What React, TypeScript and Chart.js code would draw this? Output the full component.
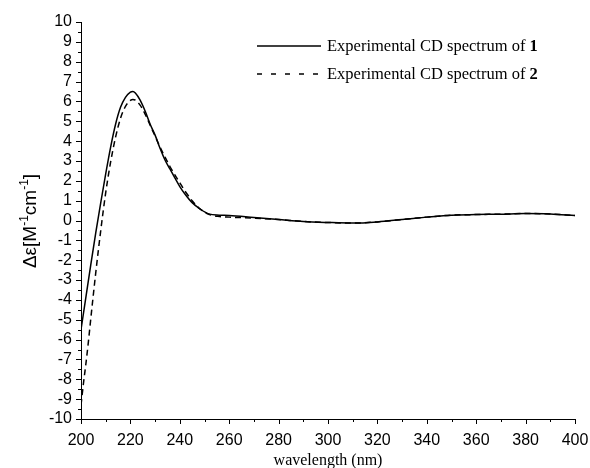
import React, { useEffect, useRef } from "react";
import { Chart, registerables } from "chart.js";

Chart.register(...registerables);

const wavelengths1 = [200, 202, 204, 206, 208, 210, 212, 214, 216, 218, 220, 221, 222, 224, 226, 228, 230, 232, 234, 236, 238, 240, 242, 245, 248, 252, 256, 260, 270, 280, 290, 300, 310, 320, 330, 340, 350, 360, 370, 380, 390, 400];
const cd1 = [-5.5, -3.85, -2.2, -0.6, 0.9, 2.35, 3.7, 4.85, 5.7, 6.2, 6.47, 6.5, 6.42, 6.05, 5.5, 4.85, 4.3, 3.64, 3.05, 2.6, 2.15, 1.71, 1.35, 0.9, 0.6, 0.32, 0.27, 0.25, 0.15, 0.05, -0.05, -0.1, -0.13, -0.07, 0.05, 0.17, 0.27, 0.3, 0.32, 0.35, 0.33, 0.25];

const wavelengths2 = [200, 201, 202, 203, 204, 206, 208, 210, 212, 214, 216, 218, 220, 221, 222, 224, 226, 228, 230, 232, 234, 236, 238, 240, 242, 245, 248, 252, 256, 260, 270, 280, 290, 300, 310, 320, 330, 340, 350, 360, 370, 380, 390, 400];
const cd2 = [-9.3, -8.2, -7.2, -6.1, -4.9, -2.6, -0.5, 1.4, 2.95, 4.2, 5.15, 5.75, 6.05, 6.1, 6.07, 5.8, 5.35, 4.8, 4.25, 3.7, 3.2, 2.72, 2.3, 1.9, 1.5, 1.0, 0.6, 0.3, 0.2, 0.17, 0.12, 0.05, -0.05, -0.1, -0.13, -0.07, 0.05, 0.17, 0.27, 0.3, 0.32, 0.35, 0.33, 0.25];

const legendText = "Experimental CD spectrum of ";
const compoundLabels = ["1", "2"];
const xTitle = "wavelength (nm)";
const xMin = 200, xMax = 400, xMajor = 20, xMinor = 10;
const yMin = -10, yMax = 10, yMajor = 1, yMinor = 0.5;

const SERIF = '"Liberation Serif", "Times New Roman", serif';
const SANS = '"Liberation Sans", Arial, sans-serif';

const overlay = {
  id: "overlay",
  afterDraw(chart: any) {
    const ctx = chart.ctx as CanvasRenderingContext2D;
    const xs = chart.scales.x;
    const ys = chart.scales.y;
    const area = chart.chartArea;
    ctx.save();
    ctx.strokeStyle = "#000";
    ctx.lineWidth = 1;
    for (let v = xMin; v <= xMax + 1e-9; v += xMinor) {
      const px = Math.round(xs.getPixelForValue(v)) + 0.5;
      const major = Math.abs(v / xMajor - Math.round(v / xMajor)) < 1e-6;
      ctx.beginPath();
      ctx.moveTo(px, area.bottom);
      ctx.lineTo(px, area.bottom + (major ? 5 : 3));
      ctx.stroke();
    }
    for (let v = yMin; v <= yMax + 1e-9; v += yMinor) {
      const py = Math.round(ys.getPixelForValue(v)) + 0.5;
      const major = Math.abs(v / yMajor - Math.round(v / yMajor)) < 1e-6;
      ctx.beginPath();
      ctx.moveTo(area.left, py);
      ctx.lineTo(area.left - (major ? 5 : 3), py);
      ctx.stroke();
    }
    // legend
    const styles = [[], [5, 9]];
    const rows = [46, 74];
    ctx.lineWidth = 1.5;
    compoundLabels.forEach((lab, i) => {
      ctx.setLineDash(styles[i]);
      ctx.beginPath();
      ctx.moveTo(257, rows[i]);
      ctx.lineTo(321, rows[i]);
      ctx.stroke();
      ctx.setLineDash([]);
      ctx.fillStyle = "#000";
      ctx.textBaseline = "middle";
      ctx.textAlign = "left";
      ctx.font = `16.5px ${SERIF}`;
      ctx.fillText(legendText, 327, rows[i] + 1);
      const w = ctx.measureText(legendText).width;
      ctx.font = `bold 16.5px ${SERIF}`;
      ctx.fillText(lab, 327 + w, rows[i] + 1);
    });
    // x title
    ctx.font = `16px ${SERIF}`;
    ctx.textAlign = "center";
    ctx.textBaseline = "alphabetic";
    ctx.fillText(xTitle, (area.left + area.right) / 2, 465);
    // y title
    ctx.translate(36, 221);
    ctx.rotate(-Math.PI / 2);
    const segs: [string, string, number][] = [
      ["Δε[M", `19px ${SANS}`, 0],
      ["-1", `12px ${SANS}`, -8],
      ["cm", `19px ${SANS}`, 0],
      ["-1", `12px ${SANS}`, -8],
      ["]", `19px ${SANS}`, 0],
    ];
    let total = 0;
    segs.forEach(([t, f]) => { ctx.font = f; total += ctx.measureText(t).width; });
    let cx = -total / 2;
    ctx.textAlign = "left";
    segs.forEach(([t, f, dy]) => {
      ctx.font = f;
      ctx.fillText(t, cx, dy);
      cx += ctx.measureText(t).width;
    });
    ctx.restore();
  },
};

export default function App() {
  const ref = useRef<HTMLCanvasElement>(null);
  useEffect(() => {
    document.body.style.margin = "0";
    const chart = new Chart(ref.current!, {
      type: "line",
      data: {
        datasets: [
          {
            data: wavelengths1.map((x, i) => ({ x, y: cd1[i] })),
            borderColor: "#000",
            borderWidth: 1.5,
            pointRadius: 0,
            cubicInterpolationMode: "monotone",
            fill: false,
          },
          {
            data: wavelengths2.map((x, i) => ({ x, y: cd2[i] })),
            borderColor: "#000",
            borderWidth: 1.5,
            borderDash: [6, 4],
            pointRadius: 0,
            cubicInterpolationMode: "monotone",
            fill: false,
          },
        ],
      },
      options: {
        animation: false,
        responsive: false,
        layout: { padding: { left: 0, right: 0, top: 22, bottom: 0 } },
        plugins: { legend: { display: false }, tooltip: { enabled: false } },
        scales: {
          x: {
            type: "linear",
            min: xMin,
            max: xMax,
            grid: { display: false, drawTicks: false },
            border: { display: true, color: "#000", width: 1 },
            ticks: { stepSize: xMajor, color: "#000", font: { family: SANS, size: 16 }, padding: 12, maxRotation: 0, autoSkip: false },
            afterFit: (s: any) => { s.height = 49; s.paddingRight = 15; },
          },
          y: {
            min: yMin,
            max: yMax,
            grid: { display: false, drawTicks: false },
            border: { display: true, color: "#000", width: 1 },
            ticks: { stepSize: yMajor, color: "#000", font: { family: SANS, size: 16 }, padding: 9, autoSkip: false },
            afterFit: (s: any) => { s.width = 81; s.paddingTop = 0; s.paddingBottom = 0; },
          },
        },
      },
      plugins: [overlay],
    });
    return () => chart.destroy();
  }, []);
  return <canvas ref={ref} width={590} height={468} style={{ display: "block" }} />;
}
